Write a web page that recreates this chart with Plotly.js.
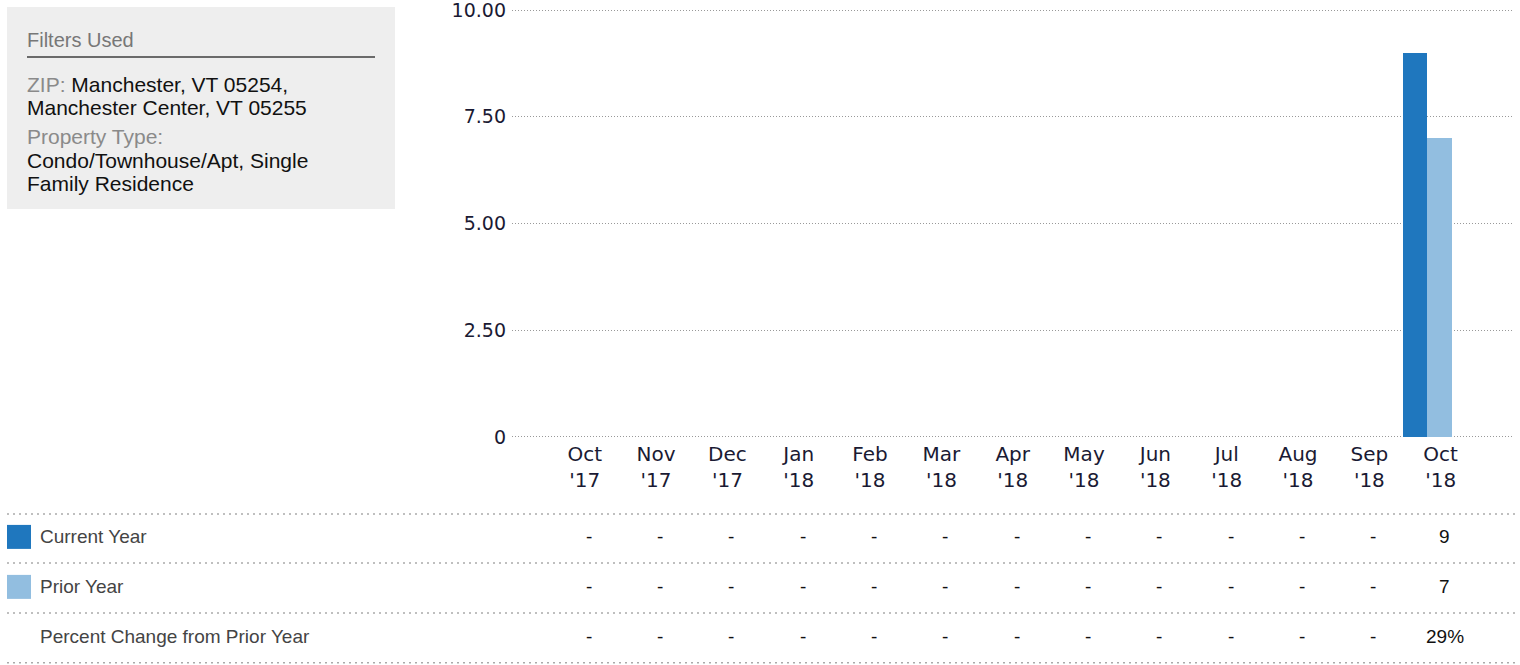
<!DOCTYPE html>
<html><head><meta charset="utf-8">
<script src="https://cdn.plot.ly/plotly-3.0.1.min.js"></script>
<style>html,body{margin:0;padding:0;background:#fff;}#chart{width:1520px;height:665px;}</style>
</head><body><div id="chart"></div>
<script>
const months = ["Oct<br>'17","Nov<br>'17","Dec<br>'17","Jan<br>'18","Feb<br>'18","Mar<br>'18","Apr<br>'18","May<br>'18","Jun<br>'18","Jul<br>'18","Aug<br>'18","Sep<br>'18","Oct<br>'18"];
const currentYear = [null,null,null,null,null,null,null,null,null,null,null,null,9];
const priorYear   = [null,null,null,null,null,null,null,null,null,null,null,null,7];
const currentText = ["-","-","-","-","-","-","-","-","-","-","-","-","9"];
const priorText   = ["-","-","-","-","-","-","-","-","-","-","-","-","7"];
const pctText     = ["-","-","-","-","-","-","-","-","-","-","-","-","29%"];
const yTickVals = [0,2.5,5,7.5,10];
const yTickText = ["0","2.50","5.00","7.50","10.00"];
const rowLabels = ["Current Year","Prior Year","Percent Change from Prior Year"];
const filterTitle = "Filters Used";
const filterLines = [
  {label:"ZIP:", text:"Manchester, VT 05254,"},
  {label:"", text:"Manchester Center, VT 05255"},
  {label:"Property Type:", text:""},
  {label:"", text:"Condo/Townhouse/Apt, Single"},
  {label:"", text:"Family Residence"}
];

const C_CUR = "#1f77be", C_PRI = "#92bee0";
const L = 512, R = 1512;
const Y0 = -0.025, Y1 = 10.025;
const pxPerUnit = (437 - 10) / 10;
const T = 10 - (Y1 - 10) * pxPerUnit;
const B = 437 + (0 - Y0) * pxPerUnit;
const px2x = p => (p - L) / (R - L);
const py2y = p => (B - p) / (B - T);
const idx = months.map((_, i) => i);

const traces = [
  {type:'bar', x: idx, y: currentYear, marker:{color:C_CUR}, width:0.34, offset:-0.53, hoverinfo:'skip', showlegend:false},
  {type:'bar', x: idx, y: priorYear, marker:{color:C_PRI}, width:0.35, offset:-0.19, hoverinfo:'skip', showlegend:false}
];

const shapes = [];
const ann = [];
const sans = "Liberation Sans, Arial, sans-serif";
const tickFamily = "DejaVu Sans, Verdana, sans-serif";

// filter panel
shapes.push({type:'rect', xref:'paper', yref:'paper', x0:px2x(7), x1:px2x(395), y0:py2y(7), y1:py2y(209), fillcolor:'#eeeeee', line:{width:0}, layer:'below'});
shapes.push({type:'line', xref:'paper', yref:'paper', x0:px2x(27), x1:px2x(375), y0:py2y(57), y1:py2y(57), line:{color:'#6a6a6a', width:2}});
ann.push({xref:'paper', yref:'paper', x:px2x(25), y:py2y(40), xanchor:'left', yanchor:'middle', showarrow:false, align:'left',
  text:filterTitle, font:{family:sans, size:20, color:'#777'}});
const lineY = [84,107,136,160,183];
filterLines.forEach((ln, i) => {
  let t = '';
  if (ln.label) t += '<span style="color:#8a8a8a">' + ln.label + '</span>';
  if (ln.label && ln.text) t += ' ';
  if (ln.text) t += ln.text;
  ann.push({xref:'paper', yref:'paper', x:px2x(25), y:py2y(lineY[i]), xanchor:'left', yanchor:'middle', showarrow:false, align:'left',
    text:t, font:{family:sans, size:21, color:'#111'}});
});

// table
[514,563,613,663].forEach(py => shapes.push({type:'line', xref:'paper', yref:'paper', x0:px2x(7), x1:px2x(1515), y0:py2y(py), y1:py2y(py), line:{color:'#aaaaaa', width:1.5, dash:'2px,4px'}}));
shapes.push({type:'rect', xref:'paper', yref:'paper', x0:px2x(7), x1:px2x(31), y0:py2y(525), y1:py2y(549), fillcolor:C_CUR, line:{width:0}});
shapes.push({type:'rect', xref:'paper', yref:'paper', x0:px2x(7), x1:px2x(31), y0:py2y(575), y1:py2y(599), fillcolor:C_PRI, line:{width:0}});
const rowY = [537,587,637];
rowLabels.forEach((t, r) => ann.push({xref:'paper', yref:'paper', x:px2x(38), y:py2y(rowY[r]), xanchor:'left', yanchor:'middle', showarrow:false,
  text:t, font:{family:sans, size:19, color:'#444'}}));
[currentText, priorText, pctText].forEach((row, r) => row.forEach((t, i) => ann.push({xref:'x', yref:'paper', x:i, xshift:4, y:py2y(rowY[r]), xanchor:'center', yanchor:'middle', showarrow:false,
  text:t, font:{family:sans, size:19, color:'#111'}})));

const layout = {
  width:1520, height:665,
  margin:{l:L, r:1520-R, t:T, b:665-B, pad:0},
  paper_bgcolor:'#fff', plot_bgcolor:'#fff',
  bargap:0, showlegend:false,
  xaxis:{range:[-1.02,13], tickvals:idx, ticktext:months, showgrid:false, zeroline:false, showline:false, ticks:'',
    ticklabelstandoff:2, ticklabeloverflow:'allow',
    tickfont:{family:tickFamily, size:20, color:'#1a1a33'}, fixedrange:true},
  yaxis:{range:[Y0,Y1], tickvals:yTickVals, ticktext:yTickText, showgrid:true, gridcolor:'#999999', griddash:'1px,2px', gridwidth:1,
    zeroline:false, showline:false, ticks:'', ticklabelstandoff:5, ticklabeloverflow:'allow',
    tickfont:{family:tickFamily, size:19, color:'#1a1a33'}, fixedrange:true},
  shapes:shapes, annotations:ann
};
Plotly.newPlot('chart', traces, layout, {staticPlot:true, displayModeBar:false});
</script></body></html>
